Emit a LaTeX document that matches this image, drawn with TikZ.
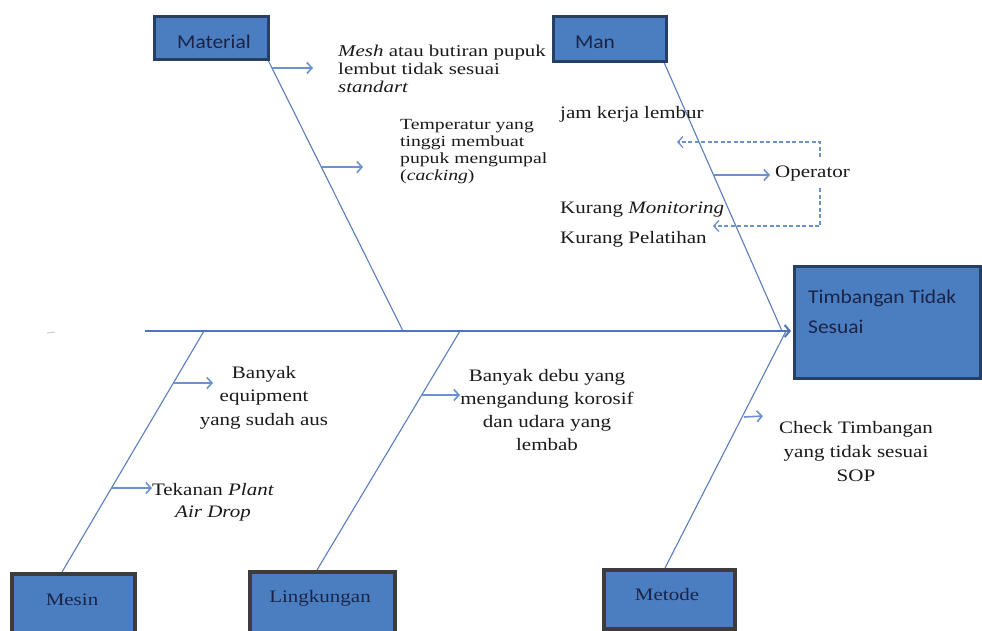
\documentclass[tikz,border=0pt]{standalone}
\usepackage{fontspec}
\newfontfamily\serfont{Liberation Serif}[FakeStretch=1.2]
\newfontfamily\serfontw{Liberation Serif}[FakeStretch=1.27]
\newfontfamily\sansfont{Carlito}[FakeStretch=1.1]
\usetikzlibrary{arrows.meta}
\definecolor{bonec}{HTML}{5A7EBD}
\definecolor{spinec}{HTML}{4F74B8}
\definecolor{arrc}{HTML}{6B92CF}
\definecolor{boxfill}{HTML}{4A7EC1}
\definecolor{boxedge}{HTML}{263F63}
\definecolor{boxgray}{HTML}{3C3C3C}
\definecolor{labc}{HTML}{1B2447}
\definecolor{txtc}{HTML}{1A1A1A}
\tikzset{
  bone/.style={draw=bonec, line width=1.1pt},
  spineline/.style={draw=spinec, line width=2pt, -{Straight Barb[length=5pt,width=12pt]}},
  smallarr/.style={draw=arrc, line width=1.6pt, -{Straight Barb[length=5pt,width=11pt]}},
  dasharr/.style={draw=arrc, line width=1.3pt, dash pattern=on 4pt off 2.5pt, -{Straight Barb[length=5pt,width=11pt]}},
  topbox/.style={draw=boxedge, line width=2.5pt, fill=boxfill, inner sep=0, anchor=north west},
  botbox/.style={draw=boxgray, line width=4pt, fill=boxfill, inner sep=0, anchor=north west},
  sanslab/.style={font=\sansfont\fontsize{19.5}{30}\selectfont, text=labc, inner sep=0},
  serlab/.style={font=\serfont\fontsize{17.5}{20}\selectfont, text=labc, inner sep=0, anchor=base},
  txt/.style={text=txtc, inner sep=0},
}
\newcommand\sertext[1]{\serfont\fontsize{17.5}{#1}\selectfont\lineskiplimit=-100pt\lineskip=0pt}
\newcommand\sertextw[2]{\serfontw\fontsize{#1}{#2}\selectfont\lineskiplimit=-100pt\lineskip=0pt}
\begin{document}
\begin{tikzpicture}[x=1pt,y=-1pt]
\useasboundingbox (0,0) rectangle (982,630);
\clip (0,0) rectangle (982,630);
\fill[white] (0,0) rectangle (982,630);

% coordinates of bones
\coordinate (matTop) at (268,60);
\coordinate (matEnd) at (403,331);
\coordinate (manTop) at (663,60);
\coordinate (manEnd) at (782,331);
\coordinate (mesTop) at (62,572);
\coordinate (mesEnd) at (204,331);
\coordinate (linTop) at (317,570);
\coordinate (linEnd) at (460,331);
\coordinate (metTop) at (665,568);
\coordinate (metEnd) at (786,331);
\coordinate (spS) at (145,331);
\coordinate (spE) at (791,331);

% artifact
\draw[gray!40, line width=1pt] (47,333) -- (55,332);

% bones
\draw[bone] (matTop) -- (matEnd);
\draw[bone] (manTop) -- (manEnd);
\draw[bone] (mesTop) -- (mesEnd);
\draw[bone] (linTop) -- (linEnd);
\draw[bone] (metTop) -- (metEnd);
\draw[spineline] (spS) -- (spE);

% boxes
\node[topbox, minimum width=114pt, minimum height=43pt] (mat) at (153,15) {};
\node[sanslab, anchor=base] (matT) at (214,48) {Material};
\node[topbox, minimum width=113pt, minimum height=45pt] (man) at (552,15) {};
\node[sanslab, anchor=base] (manT) at (595,48) {Man};
\node[topbox, minimum width=186pt, minimum height=112pt] (eff) at (793,265) {};
\node[sanslab, anchor=base west, align=left] (effT) at (808,333) {Timbangan Tidak\\Sesuai};

\node[botbox, minimum width=123pt, minimum height=70pt] (mesin) at (10,572) {};
\node[serlab] (mesinT) at (72,605) {Mesin};
\node[botbox, minimum width=145pt, minimum height=72pt] (ling) at (248,570) {};
\node[serlab] (lingT) at (320,602) {Lingkungan};
\node[botbox, minimum width=131pt, minimum height=59pt] (metode) at (602,568) {};
\node[serlab] (metodeT) at (667,600) {Metode};

% cause texts (anchor = baseline of the last line)
\node[txt, font={\sertextw{16.5}{18.4}}, align=left, anchor=base west] (c1) at (338,92.8)
  {\textit{Mesh} atau butiran pupuk\\lembut tidak sesuai\\\textit{standart}};
\node[txt, font={\sertextw{15.5}{17.3}}, align=left, anchor=base west] (c2) at (400,180.9)
  {Temperatur yang\\tinggi membuat\\pupuk mengumpal\\(\textit{cacking})};
\node[txt, font=\sertext{20}, anchor=base west] (c3) at (560,118) {jam kerja lembur};
\node[txt, font=\sertext{20}, anchor=base west] (c4) at (560,213) {Kurang \textit{Monitoring}};
\node[txt, font=\sertext{20}, anchor=base west] (c5) at (560,243) {Kurang Pelatihan};
\node[txt, font=\sertext{20}, anchor=base west] (op) at (775,177) {Operator};
\node[txt, font=\sertext{23.5}, align=center, anchor=base] (c6) at (264,425)
  {Banyak\\equipment\\yang sudah aus};
\node[txt, font=\sertext{22}, align=center, anchor=base] (c7) at (213,517)
  {Tekanan \textit{Plant}\\\textit{Air Drop}};
\node[txt, font=\sertext{22.7}, align=center, anchor=base] (c8) at (547,450)
  {Banyak debu yang\\mengandung korosif\\dan udara yang\\lembab};
\node[txt, font=\sertext{24}, align=center, anchor=base] (c9) at (856,481)
  {Check Timbangan\\yang tidak sesuai\\SOP};

% small arrows
\coordinate (a1s) at (272,68);  \coordinate (a1e) at (313,68);
\coordinate (a2s) at (322,167); \coordinate (a2e) at (363,167);
\coordinate (a3s) at (713,175); \coordinate (a3e) at (770,175);
\coordinate (a4s) at (174,383); \coordinate (a4e) at (213,383);
\coordinate (a5s) at (112,488); \coordinate (a5e) at (152,488);
\coordinate (a6s) at (421,395); \coordinate (a6e) at (460,395);
\coordinate (a7s) at (744,417); \coordinate (a7e) at (763,416);
\draw[smallarr] (a1s) -- (a1e);
\draw[smallarr] (a2s) -- (a2e);
\draw[smallarr] (a3s) -- (a3e);
\draw[smallarr] (a4s) -- (a4e);
\draw[smallarr] (a5s) -- (a5e);
\draw[smallarr] (a6s) -- (a6e);
\draw[smallarr] (a7s) -- (a7e);

% dashed feedback arrows
\coordinate (d1s) at (820,157); \coordinate (d1e) at (677,142);
\coordinate (d2s) at (820,188); \coordinate (d2e) at (713,226);
\draw[dasharr] (d1s) |- (d1e);
\draw[dasharr] (d2s) |- (d2e);
\end{tikzpicture}
\end{document}
